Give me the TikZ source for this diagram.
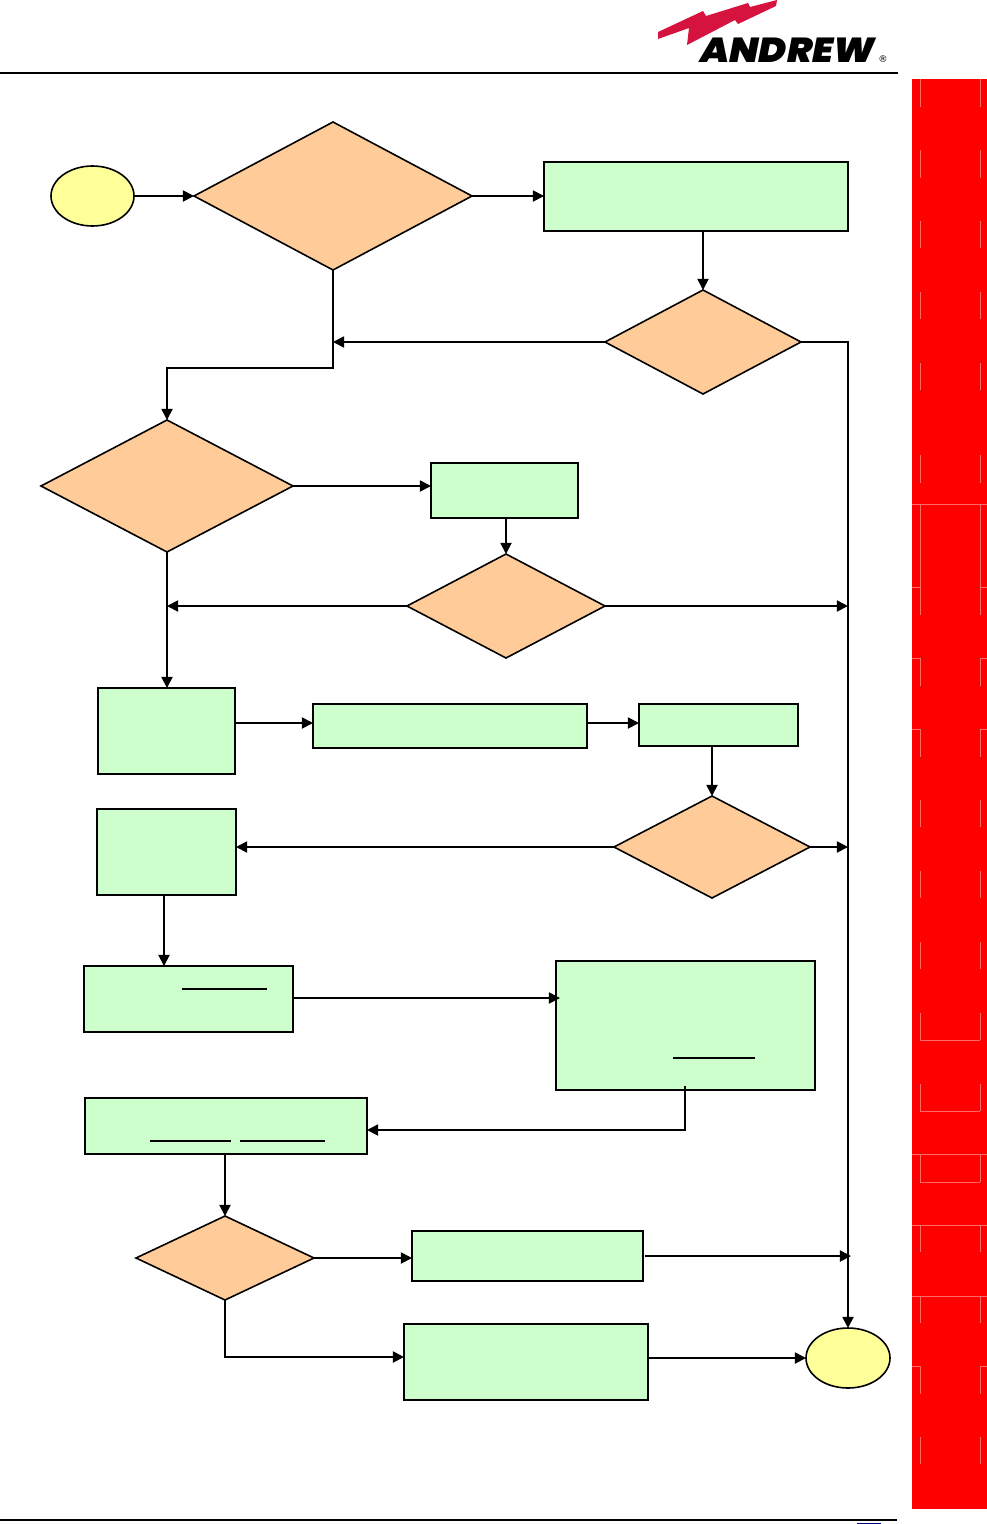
\documentclass[tikz,border=0pt]{standalone}
\usepackage{fontspec}
\newfontfamily\logofont{Poppins Black Italic}
\newfontfamily\regfont{DejaVu Sans}
\usetikzlibrary{shapes.geometric,arrows.meta,calc}
\definecolor{boxgreen}{HTML}{CCFFCC}
\definecolor{diaorange}{HTML}{FFCC99}
\definecolor{ovalyellow}{HTML}{FFFF99}
\definecolor{stripred}{HTML}{FF0000}
\definecolor{stripline}{HTML}{FF6A6A}
\definecolor{logored}{HTML}{D6123F}
\tikzset{
  x=0.75pt,y=-0.75pt,
  flowline/.style={line width=1.35pt,black},
  arr/.style={flowline,-{Triangle[length=8.4pt,width=8.4pt]}},
  boxbase/.style={draw=black,line width=1.2pt,inner sep=0pt,outer sep=0pt},
  procbox/.style={boxbase,rectangle,fill=boxgreen},
  decbox/.style={boxbase,diamond,fill=diaorange},
  termbox/.style={boxbase,ellipse,fill=ovalyellow},
  linkline/.style={line width=0.8pt,black},
  stripmark/.style={line width=0.6pt,stripline},
}
% name, x1, y1, x2, y2
\newcommand{\shapeat}[6]{%
  \pgfmathsetmacro{\shpw}{(#4-#2)*0.75}\pgfmathsetmacro{\shph}{(#5-#3)*0.75}%
  \node[#6,minimum width=\shpw pt,minimum height=\shph pt] (#1) at ({(#2+#4)/2},{(#3+#5)/2}) {};}
\newcommand{\decat}[5]{%
  \pgfmathsetmacro{\shpw}{(#4-#2)*0.75}\pgfmathsetmacro{\shph}{(#5-#3)*0.75}\pgfmathsetmacro{\shpa}{\shpw/\shph}%
  \node[decbox,aspect=\shpa,minimum width=\shpw pt,minimum height=\shph pt] (#1) at ({(#2+#4)/2},{(#3+#5)/2}) {};}
\begin{document}
\begin{tikzpicture}
\useasboundingbox (0,0) rectangle (987,1524);
% side strip
\fill[stripred] (912,79) rectangle (987,1509);
\foreach \a/\b in {79/107,150/178,221/248,292/319,363/390,455/483,505/615,658/686,729/757,800/827,871/898,942/969,1013/1040,1084/1111,1154/1182,1225/1252,1296/1323,1366/1394,1437/1464}{
  \draw[stripmark] (920,\a) -- (920,\b);
  \draw[stripmark] (980,\a) -- (980,\b);
}
\foreach \y in {504,1154,1225,1296}{\draw[stripmark] (912,\y) -- (987,\y);}
\foreach \y in {587,658,729,1366}{\draw[stripmark] (912,\y) -- (920,\y);\draw[stripmark] (980,\y) -- (987,\y);}
\foreach \y in {1040,1111,1182}{\draw[stripmark] (920,\y) -- (980,\y);}
% header and footer
\draw[line width=1.5pt] (0,73) -- (898,73);
\draw[line width=0.8pt] (0,1520) -- (897,1520);
\draw[line width=0.9pt,blue!50!black] (857,1523.3) -- (881,1523.3);
% logo
\fill[logored] (658,32) -- (703,11) -- (706,16) -- (748,3) -- (750,7) -- (777,0) -- (776,6) -- (738,24) -- (735,20) -- (687,45) -- (689,28) -- (658,39) -- cycle;
\node[inner sep=0pt,anchor=base west,font=\logofont\fontsize{26}{26}\selectfont,xscale=1.09] (logotext) at (700,62) {ANDREW};
\node[inner sep=0pt,anchor=base west,font=\regfont\fontsize{7}{7}\selectfont] (logoreg) at (878,62) {®};
% shapes
\shapeat{start}{51}{166}{134}{226}{termbox}
\decat{dA}{194}{122}{472}{270}
\shapeat{bA}{544}{162}{848}{231}{procbox}
\decat{dB}{605}{290}{801}{394}
\decat{dC}{41}{420}{293}{552}
\shapeat{bB}{431}{463}{578}{518}{procbox}
\decat{dD}{407}{554}{605}{658}
\shapeat{bC}{98}{688}{235}{774}{procbox}
\shapeat{bD}{313}{704}{587}{748}{procbox}
\shapeat{bE}{639}{704}{798}{746}{procbox}
\decat{dE}{614}{796}{810}{898}
\shapeat{bF}{97}{809}{236}{895}{procbox}
\shapeat{bG}{84}{966}{293}{1032}{procbox}
\shapeat{bH}{556}{961}{815}{1090}{procbox}
\shapeat{bI}{85}{1098}{367}{1154}{procbox}
\decat{dF}{136}{1216}{314}{1300}
\shapeat{bJ}{412}{1231}{643}{1281}{procbox}
\shapeat{bK}{404}{1324}{648}{1400}{procbox}
\shapeat{stop}{806}{1328}{890}{1388}{termbox}
% underlines of link text
\draw[linkline] (182,989) -- (267,989);
\draw[linkline] (150,1141) -- (231,1141);
\draw[linkline] (240,1141) -- (325,1141);
\draw[linkline] (673,1058) -- (755,1058);
% free connector points
\coordinate (jB) at (333,368);
\coordinate (rowC) at (0,723);
\coordinate (busJ) at (851,1256);
\coordinate (bJout) at (645,1256);
\coordinate (bHin) at (560,998);
\coordinate (bHout) at (685,1086);
\coordinate (bFout) at (164,895);
\coordinate (bGin) at (164,966);
\coordinate (bIin) at (367,1130);
\coordinate (bKin) at (404,1357);
% connectors
\draw[arr] (start.east) -- (dA.west);
\draw[arr] (dA.east) -- (bA.west |- dA.east);
\draw[arr] (bA.south -| dB.north) -- (dB.north);
\draw[arr] (dB.west) -- (dB.west -| dA.south);
\draw[arr] (dA.south) -- (dA.south |- jB) -| (dC.north);
\draw[arr] (dB.east) -| (stop.north);
\draw[arr] (dC.east) -- (bB.west |- dC.east);
\draw[arr] (bB.south -| dD.north) -- (dD.north);
\draw[arr] (dD.west) -- (dD.west -| dC.south);
\draw[arr] (dD.east) -- (dD.east -| stop.north);
\draw[arr] (dC.south) -- (bC.north -| dC.south);
\draw[arr] (bC.east |- rowC) -- (bD.west |- rowC);
\draw[arr] (bD.east |- rowC) -- (bE.west |- rowC);
\draw[arr] (bE.south -| dE.north) -- (dE.north);
\draw[arr] (dE.west) -- (bF.east |- dE.west);
\draw[arr] (dE.east) -- (dE.east -| stop.north);
\draw[arr] (bFout) -- (bGin);
\draw[arr] (bG.east |- bHin) -- (bHin);
\draw[arr] (bHout) |- (bIin);
\draw[arr] (bI.south -| dF.north) -- (dF.north);
\draw[arr] (dF.east) -- (bJ.west |- dF.east);
\draw[arr] (bJout) -- (busJ);
\draw[arr] (dF.south) |- (bKin);
\draw[arr] (bK.east |- stop.west) -- (stop.west);
\end{tikzpicture}
\end{document}
